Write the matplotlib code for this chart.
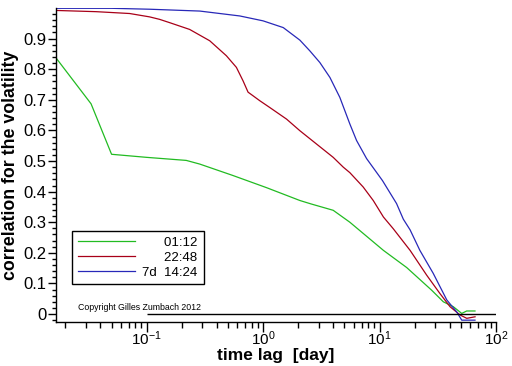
import numpy as np
import matplotlib
matplotlib.use("Agg")
import matplotlib.pyplot as plt

plt.rcParams['font.family'] = ['Liberation Sans', 'DejaVu Sans']
plt.rcParams['mathtext.fontset'] = 'custom'
plt.rcParams['mathtext.rm'] = 'Liberation Sans'
plt.rcParams['mathtext.default'] = 'regular'

# ---------------------------------------------------------
# data (time lag in days)
# ---------------------------------------------------------
green_x = [1/60, 2/60, 3/60, 0.1, 0.219, 0.286, 0.548, 1.07, 2.07, 2.57, 4.0,
           5.56, 10.8, 17.1, 28.0, 35.3, 43.0, 50.8, 56.0, 66.0]
green_y = [0.837, 0.687, 0.522, 0.512, 0.502, 0.490, 0.453, 0.413, 0.371, 0.360,
           0.339, 0.300, 0.208, 0.152, 0.078, 0.040, 0.024, 0.002, 0.010, 0.010]

red_x = [1/60, 0.0369, 0.0714, 0.106, 0.129, 0.158, 0.234, 0.348, 0.484, 0.590,
         0.673, 0.743, 0.821, 0.937, 1.14, 1.59, 2.07, 4.0, 4.88, 5.56, 7.24,
         8.83, 10.8, 13.1, 18.3, 25.4, 33.0, 40.3, 49.1, 56.1, 66.1]
red_y = [0.992, 0.988, 0.982, 0.971, 0.963, 0.952, 0.930, 0.893, 0.844, 0.806,
         0.762, 0.725, 0.713, 0.697, 0.675, 0.637, 0.599, 0.512, 0.480, 0.462,
         0.415, 0.371, 0.317, 0.279, 0.208, 0.127, 0.067, 0.024, -0.003, -0.014,
         -0.009]

blue_x = [1/60, 0.05, 0.106, 0.286, 0.631, 1.0, 1.49, 2.07, 2.52, 3.07, 3.75,
          4.56, 5.56, 6.35, 7.74, 10.6, 14.0, 16.0, 18.3, 22.2, 28.9,
          37.8, 46.0, 50.8, 66.0]
blue_y = [0.999, 0.999, 0.996, 0.990, 0.974, 0.958, 0.936, 0.895, 0.860, 0.822,
          0.773, 0.708, 0.621, 0.567, 0.508, 0.436, 0.361, 0.310, 0.275,
          0.208, 0.133, 0.046, 0.007, -0.020, -0.020]

labels = ["01:12", "22:48", "7d  14:24"]
yticks = [0, 0.1, 0.2, 0.3, 0.4, 0.5, 0.6, 0.7, 0.8, 0.9]

# pad the shorter labels so they look right aligned (figure space = digit width)
pad = "\u2007\u2007  "
legend_labels = [pad + labels[0], pad + labels[1], labels[2]]

# ---------------------------------------------------------
# plot
# ---------------------------------------------------------
fig = plt.figure(figsize=(5.12, 3.66), dpi=100)
ax = fig.add_axes([56/512, 44/366, 440/512, 314/366])

lw = 0.9
ax.plot(green_x, green_y, color="#22bb22", lw=lw, label=legend_labels[0])
ax.plot(red_x, red_y, color="#a80018", lw=lw, label=legend_labels[1])
ax.plot(blue_x, blue_y, color="#2828b8", lw=lw, label=legend_labels[2])
ax.hlines(0, 0.1, 100, color="black", lw=1.0)

ax.set_xscale("log")
ax.set_xlim(1/60, 100)
ax.set_ylim(-0.026, 1.0)

ax.spines["top"].set_visible(False)
ax.spines["right"].set_visible(False)
ax.spines["left"].set_linewidth(1.0)
ax.spines["bottom"].set_linewidth(1.0)

ax.set_yticks(yticks)
ax.set_yticklabels([("%g" % v) for v in yticks], fontsize=12)
ax.set_yticks(np.arange(-0.02, 1.0, 0.02), minor=True)
ax.set_xticks([0.1, 1, 10, 100])
ax.set_xticklabels([r"$10^{-1}$", r"$10^{0}$", r"$10^{1}$", r"$10^{2}$"], fontsize=11)
ax.tick_params(axis="both", which="major", direction="out", length=6, width=1)
ax.tick_params(axis="both", which="minor", direction="out", length=3, width=1)
ax.tick_params(axis="y", which="major", pad=1)
ax.tick_params(axis="x", which="major", length=7, pad=-2)
ax.tick_params(axis="x", which="minor", length=4)

ax.set_xlabel("time lag  [day]", fontsize=12.5, fontweight="bold", labelpad=0)
ax.set_ylabel("correlation for the volatility", fontsize=12.8, fontweight="bold",
              labelpad=3)

ax.text(0.05, 0.045, "Copyright Gilles Zumbach 2012", transform=ax.transAxes,
        fontsize=6.3, va="center")

leg = ax.legend(loc="upper left", bbox_to_anchor=(0.036, 0.291), borderaxespad=0,
                fancybox=False, framealpha=1, edgecolor="black", fontsize=9.5,
                handlelength=4.3, handletextpad=0.6, labelspacing=0.2,
                borderpad=0.45)
leg.get_frame().set_linewidth(1.0)

fig.savefig("out.png", dpi=100)
